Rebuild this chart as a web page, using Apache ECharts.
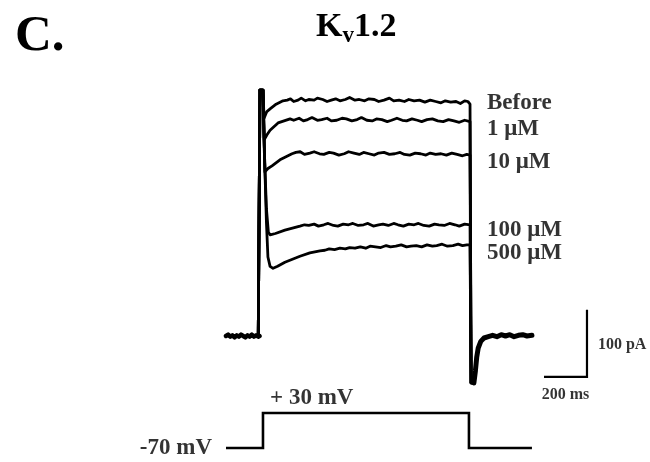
<!DOCTYPE html>
<html>
<head>
<meta charset="utf-8">
<title>Kv1.2 current traces</title>
<script src="https://cdn.jsdelivr.net/npm/echarts@6/dist/echarts.min.js"></script>
<style>
  html, body { margin: 0; padding: 0; background: #fff; }
  #chart { width: 650px; height: 462px; }
</style>
</head>
<body>
<div id="chart"></div>
<script>
// Holding current before the step (ms, pA), ending with the capacitive rise
const baseline = [[0, 0], [10, 2], [20, -1], [30, 1], [40, -2], [50, 1], [60, -1], [70, 2], [80, 0], [90, -2], [100, 1], [110, -1], [120, 2], [130, -1], [140, 1], [150, -1], [156, 0], [158, 367]];

// Currents during the +30 mV step (ms, pA) for each condition
const before = [[172, 367], [177, 325], [190, 335], [205, 339], [233, 346], [265, 351], [285, 352], [300, 354], [315, 350], [335, 352], [350, 355], [370, 351], [385, 353], [410, 352], [425, 355], [450, 353], [470, 350], [490, 352], [510, 354], [530, 351], [555, 353], [575, 356], [600, 352], [620, 353], [645, 351], [665, 354], [690, 353], [710, 350], [735, 352], [760, 355], [780, 351], [805, 352], [830, 350], [850, 353], [875, 351], [900, 352], [925, 349], [950, 352], [975, 350], [1000, 348], [1020, 351], [1045, 349], [1070, 350], [1090, 347], [1110, 351], [1125, 350], [1135, 346]];
const um1 = [[172, 367], [175, 330], [178, 293], [190, 300], [205, 307], [242, 318], [298, 324], [315, 322], [340, 325], [360, 321], [380, 323], [400, 326], [425, 322], [445, 323], [470, 325], [490, 321], [515, 322], [540, 325], [560, 324], [585, 321], [610, 323], [630, 326], [655, 322], [680, 321], [700, 324], [725, 323], [750, 320], [770, 322], [795, 325], [820, 322], [840, 321], [865, 324], [890, 322], [910, 320], [935, 323], [960, 324], [985, 321], [1010, 320], [1035, 323], [1060, 321], [1085, 319], [1110, 322], [1135, 320]];
const um10 = [[172, 367], [176, 300], [181, 245], [195, 250], [214, 254], [251, 263], [307, 272], [325, 274], [345, 275], [365, 271], [390, 273], [410, 275], [435, 272], [455, 271], [480, 274], [500, 273], [525, 270], [550, 272], [570, 275], [595, 273], [620, 271], [640, 274], [665, 272], [690, 270], [710, 273], [735, 274], [760, 271], [785, 272], [810, 274], [830, 271], [855, 270], [880, 273], [905, 272], [930, 270], [950, 273], [975, 271], [1000, 272], [1025, 270], [1050, 273], [1075, 271], [1100, 269], [1120, 271], [1135, 270]];
const um100 = [[172, 367], [180, 260], [188, 190], [197, 155], [205, 151], [230, 153], [274, 158], [344, 164], [365, 166], [385, 165], [410, 167], [430, 164], [455, 166], [475, 168], [500, 165], [520, 164], [545, 167], [570, 166], [590, 168], [615, 165], [640, 166], [660, 168], [685, 164], [710, 166], [730, 167], [755, 165], [780, 168], [800, 166], [825, 164], [850, 167], [875, 166], [895, 168], [920, 165], [945, 164], [970, 167], [990, 166], [1015, 165], [1040, 168], [1065, 166], [1085, 164], [1110, 167], [1135, 166]];
const um500 = [[172, 367], [180, 260], [188, 170], [195, 118], [205, 104], [219, 101], [240, 104], [274, 110], [344, 119], [390, 124], [437, 127], [460, 128], [480, 130], [505, 129], [530, 131], [555, 130], [575, 132], [600, 131], [625, 133], [650, 131], [670, 134], [695, 133], [720, 132], [745, 135], [765, 133], [790, 134], [815, 136], [840, 133], [860, 134], [885, 135], [910, 133], [935, 136], [960, 134], [980, 135], [1005, 137], [1030, 134], [1055, 135], [1080, 137], [1100, 135], [1120, 136], [1135, 136]];

// Tail current after repolarisation (ms, pA)
const tail = [[1140, -70], [1153, -70], [1160, -52], [1166, -32], [1173, -18], [1185, -8], [1200, -3], [1220, -1], [1240, 1], [1260, -1], [1280, 2], [1300, 0], [1320, 2], [1340, -1], [1360, 1], [1380, 2], [1400, 0], [1423, 1]];

const traceNames = ['Before', '1 μM', '10 μM', '100 μM', '500 μM'];
const traceData = [before, um1, um10, um100, um500];
// Label anchors beside the end of each trace (ms, pA)
const labelTime = 1214;
const labelLevels = [348, 309, 260, 158, 124];

// Voltage protocol (ms, mV)
const protocol = [[0, -70], [172, -70], [172, 30], [1130, 30], [1130, -70], [1423, -70]];
const holdingLabel = '-70 mV';
const stepLabel = '+ 30 mV';

// Scale bar: 200 ms horizontal, 100 pA vertical
const scaleTime = 200;
const scaleCurrent = 100;
const scaleEnd = 1679;
const scaleLow = -61;

const FONT = '"Liberation Serif", "Times New Roman", serif';
const black = '#000';

const chart = echarts.init(document.getElementById('chart'), null, { renderer: 'canvas' });

const lineStyle = (w) => ({ color: black, width: w, join: 'round', cap: 'round' });

const series = [];

traceData.forEach((d, i) => {
  series.push({
    type: 'line', name: traceNames[i], xAxisIndex: 0, yAxisIndex: 0,
    data: baseline.concat(d, tail),
    showSymbol: false, symbol: 'none', silent: true,
    lineStyle: lineStyle(2.8)
  });
});

// heavier overlay where all traces coincide
series.push({
  type: 'line', xAxisIndex: 0, yAxisIndex: 0, data: baseline.slice(0, baseline.length - 1),
  showSymbol: false, symbol: 'none', silent: true, lineStyle: lineStyle(4.5)
});
series.push({
  type: 'line', xAxisIndex: 0, yAxisIndex: 0, data: tail.slice(1),
  showSymbol: false, symbol: 'none', silent: true, lineStyle: lineStyle(5)
});
// capacitive spike band
series.push({
  type: 'line', xAxisIndex: 0, yAxisIndex: 0, data: [[158, 367], [168, 367]],
  showSymbol: false, symbol: 'none', silent: true, lineStyle: lineStyle(3)
});

const textLabel = (size, pos, dist) => ({
  show: true, position: pos, distance: dist, color: black,
  fontFamily: FONT, fontWeight: 'bold', fontSize: size,
  formatter: (p) => p.data[2]
});

// condition labels
series.push({
  type: 'scatter', xAxisIndex: 0, yAxisIndex: 0, symbolSize: 0, silent: true,
  data: traceNames.map((n, i) => [labelTime, labelLevels[i], n]),
  label: textLabel(23, 'right', 0)
});

// scale bar
series.push({
  type: 'line', xAxisIndex: 0, yAxisIndex: 0, showSymbol: false, symbol: 'none', silent: true,
  data: [[scaleEnd - scaleTime, scaleLow], [scaleEnd, scaleLow], [scaleEnd, scaleLow + scaleCurrent]],
  lineStyle: { color: black, width: 2.2, join: 'miter', cap: 'butt' }
});
series.push({
  type: 'scatter', xAxisIndex: 0, yAxisIndex: 0, symbolSize: 0, silent: true,
  data: [[scaleEnd + 51, -13, scaleCurrent + ' pA']],
  label: textLabel(16, 'right', 0)
});
series.push({
  type: 'scatter', xAxisIndex: 0, yAxisIndex: 0, symbolSize: 0, silent: true,
  data: [[scaleEnd - scaleTime / 2, -88, scaleTime + ' ms']],
  label: textLabel(16, 'inside', 0)
});

// voltage protocol
series.push({
  type: 'line', xAxisIndex: 1, yAxisIndex: 1, data: protocol,
  showSymbol: false, symbol: 'none', silent: true,
  lineStyle: { color: black, width: 2.6, join: 'miter', cap: 'butt' }
});
series.push({
  type: 'scatter', xAxisIndex: 1, yAxisIndex: 1, symbolSize: 0, silent: true,
  data: [[protocol[0][0], protocol[0][1], holdingLabel]],
  label: textLabel(23, 'left', 14)
});
series.push({
  type: 'scatter', xAxisIndex: 1, yAxisIndex: 1, symbolSize: 0, silent: true,
  data: [[205, 73, stepLabel]],
  label: textLabel(23, 'right', 0)
});

const hiddenValue = (min, max, grid) => ({
  type: 'value', min: min, max: max, gridIndex: grid, show: false,
  splitLine: { show: false }
});

chart.setOption({
  animation: false,
  backgroundColor: '#fff',
  title: [
    {
      text: 'C.', left: 10, top: 6,
      textStyle: { fontFamily: FONT, fontWeight: 'bold', fontSize: 51, color: black }
    },
    {
      text: '{a|K}{b|v}{a|1.2}', left: 311, top: 5,
      textStyle: {
        rich: {
          a: { fontFamily: FONT, fontWeight: 'bold', fontSize: 34, color: black, verticalAlign: 'top', lineHeight: 36 },
          b: { fontFamily: FONT, fontWeight: 'bold', fontSize: 23, color: black, verticalAlign: 'top', lineHeight: 24, padding: [15, 0, 0, 0] }
        }
      }
    }
  ],
  grid: [
    { left: 226, top: 68, width: 376.25, height: 335, containLabel: false },
    { left: 226, top: 395.5, width: 376.25, height: 59.5, containLabel: false }
  ],
  xAxis: [hiddenValue(0, 1750, 0), hiddenValue(0, 1750, 1)],
  yAxis: [hiddenValue(-100, 400, 0), hiddenValue(-90, 80, 1)],
  series: series
});
</script>
</body>
</html>
